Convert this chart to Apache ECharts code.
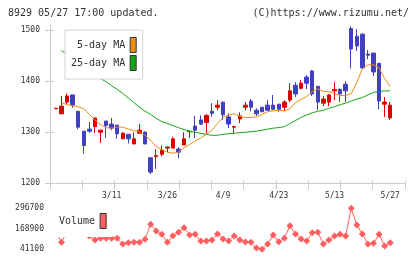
<!DOCTYPE html>
<html>
<head>
<meta charset="utf-8">
<script src="https://cdn.jsdelivr.net/npm/echarts@6/dist/echarts.min.js"></script>
<style>
html, body { margin: 0; padding: 0; background: #fff; }
#chart { width: 420px; height: 259px; }
</style>
</head>
<body>
<div id="chart"></div>
<script>
// daily prices, index 0 = first candle on the left
const openP = [1346, 1336, 1359, 1373, 1341, 1302, 1306, 1311, 1300, 1322,
  1316, 1314, 1287, 1296, 1277, 1298, 1300, 1250, 1252, 1257,
  1269, 1269, 1267, 1275, 1301, 1312, 1324, 1319, 1341, 1349,
  1359, 1330, 1310, 1326, 1349, 1361, 1343, 1349, 1353, 1353,
  1355, 1349, 1363, 1392, 1386, 1408, 1420, 1390, 1357, 1359,
  1381, 1384, 1394, 1503, 1488, 1492, 1453, 1455, 1435, 1355, 1328];
const closeP = [1347, 1351, 1371, 1353, 1310, 1274, 1302, 1328, 1304, 1313,
  1308, 1297, 1298, 1287, 1287, 1304, 1277, 1222, 1254, 1265,
  1271, 1287, 1261, 1287, 1302, 1304, 1316, 1333, 1337, 1353,
  1334, 1316, 1311, 1332, 1353, 1349, 1336, 1340, 1343, 1345,
  1345, 1359, 1381, 1375, 1396, 1396, 1375, 1359, 1365, 1373,
  1384, 1375, 1381, 1463, 1469, 1426, 1451, 1418, 1361, 1359, 1353];
const lowP = [1346, 1336, 1354, 1348, 1306, 1258, 1299, 1298, 1279, 1289,
  1304, 1287, 1287, 1278, 1277, 1298, 1277, 1218, 1228, 1253,
  1261, 1269, 1249, 1275, 1289, 1289, 1314, 1298, 1330, 1343,
  1324, 1308, 1297, 1318, 1343, 1341, 1332, 1340, 1343, 1343,
  1340, 1343, 1359, 1369, 1384, 1384, 1371, 1343, 1351, 1351,
  1363, 1359, 1359, 1425, 1459, 1424, 1443, 1410, 1345, 1330, 1324];
const highP = [1347, 1371, 1376, 1373, 1341, 1302, 1320, 1328, 1305, 1322,
  1328, 1314, 1300, 1296, 1300, 1316, 1302, 1250, 1267, 1274,
  1272, 1291, 1271, 1300, 1302, 1332, 1333, 1335, 1357, 1363,
  1359, 1337, 1313, 1339, 1359, 1365, 1347, 1349, 1363, 1373,
  1355, 1363, 1396, 1398, 1402, 1412, 1422, 1390, 1371, 1375,
  1398, 1386, 1400, 1507, 1502, 1494, 1461, 1455, 1435, 1369, 1359];
const ma5 = [null, 1358, 1354, 1352, 1350, 1346, 1335, 1324, 1315, 1309,
  1308, 1310, 1310, 1306, 1303, 1301, 1294, 1284, 1272, 1266,
  1261, 1259, 1261, 1270, 1276, 1283, 1289, 1296, 1304, 1317,
  1329, 1334, 1336, 1331, 1329, 1329, 1330, 1335, 1340, 1342,
  1343, 1342, 1346, 1358, 1364, 1370, 1380, 1385, 1380, 1379,
  1376, 1372, 1372, 1375, 1398, 1424, 1432, 1432, 1426, 1405, 1389];
const ma25 = [null, 1460, 1452, 1444, 1436, 1429, 1421, 1413, 1405, 1399,
  1391, 1384, 1376, 1367, 1358, 1349, 1341, 1335, 1327, 1321,
  1317, 1313, 1309, 1305, 1302, 1300, 1298, 1296, 1294, 1294,
  1296, 1297, 1298, 1299, 1300, 1301, 1302, 1304, 1306, 1308,
  1309, 1311, 1317, 1323, 1329, 1334, 1338, 1341, 1343, 1347,
  1350, 1354, 1357, 1361, 1365, 1368, 1373, 1378, 1380, 1381, 1381];
const volume = [150000, 84700, 150000, 160000, 145000, 155000, 124000, 99100, 109700, 109700,
  109700, 109700, 74100, 82200, 84700, 84700, 103400, 197000, 155200, 134600,
  84700, 125900, 147100, 175800, 130200, 134600, 92800, 92800, 99100, 136500,
  105300, 92800, 124000, 99100, 86600, 84700, 49200, 41100, 74100, 130200,
  88500, 109700, 188200, 136500, 105300, 92800, 144600, 147100, 74100, 99100,
  124000, 134600, 124000, 296700, 192600, 136500, 74100, 78500, 134600, 61700, 82200];

const labelIdx = [10, 20, 30, 40, 50, 60];
const labelText = ["3/11", "3/26", "4/9", "4/23", "5/13", "5/27"];
const priceTicks = [1200, 1300, 1400, 1500];
const volTicks = [41100, 168900, 296700];

const xMin = -1.06;
const xMax = 62.65;
const tickX = [];
for (let k = 0; k <= 11; k++) {
  tickX.push(k === 11 ? xMax : xMin + ((xMax - xMin) * k) / 11);
}

const font = "DejaVu Sans Mono";
const gray = "#cccccc";
const txt = "#333333";

let myChart = echarts.init(document.getElementById("chart"));

let option = {
  animation: false,
  title: [
    {
      text: "8929 05/27 17:00 updated.",
      left: 8,
      top: 8,
      padding: 0,
      textStyle: { fontFamily: font, fontSize: 10, fontWeight: "normal", color: txt },
    },
    {
      text: "(C)https://www.rizumu.net/",
      right: 11,
      top: 8,
      padding: 0,
      textStyle: { fontFamily: font, fontSize: 10, fontWeight: "normal", color: txt },
    },
  ],
  legend: [
    {
      data: ["5-day MA", "25-day MA"],
      orient: "vertical",
      left: 65,
      top: 30,
      align: "right",
      icon: "rect",
      itemWidth: 6,
      itemHeight: 15,
      itemGap: 2,
      padding: [7, 6, 8, 6],
      backgroundColor: "#fff",
      borderColor: "#d4d4d4",
      borderWidth: 1,
      selectedMode: false,
      itemStyle: { borderColor: "#333", borderWidth: 1 },
      textStyle: { fontFamily: font, fontSize: 10, color: txt },
    },
    {
      data: ["Volume"],
      left: 53,
      top: 205,
      align: "right",
      icon: "rect",
      itemWidth: 6,
      itemHeight: 15,
      padding: [8, 6, 8, 6],
      backgroundColor: "#fff",
      selectedMode: false,
      itemStyle: { borderColor: "#333", borderWidth: 1 },
      textStyle: { fontFamily: font, fontSize: 10, color: txt },
    },
  ],
  grid: [
    { left: 50, top: 25, width: 355, height: 158.3 },
    { left: 50, top: 208.3, width: 355, height: 41 },
  ],
  xAxis: [
    {
      type: "value",
      gridIndex: 0,
      min: xMin,
      max: xMax,
      splitLine: { show: false },
      axisLine: { onZero: false, lineStyle: { color: gray } },
      axisTick: { customValues: tickX, length: 6, lineStyle: { color: gray } },
      axisLabel: {
        customValues: labelIdx,
        formatter: function (v) {
          return labelText[labelIdx.indexOf(Math.round(v))];
        },
        margin: 9,
        fontFamily: font,
        fontSize: 8,
        color: txt,
      },
    },
    {
      type: "value",
      gridIndex: 0,
      position: "bottom",
      min: xMin,
      max: xMax,
      splitLine: { show: false },
      axisLine: { show: false, onZero: false },
      axisTick: { inside: true, customValues: tickX, length: 3, lineStyle: { color: gray } },
      axisLabel: { show: false },
    },
    { type: "value", gridIndex: 1, min: xMin, max: xMax, show: false },
  ],
  yAxis: [
    {
      type: "value",
      gridIndex: 0,
      position: "left",
      min: 1200,
      max: 1510,
      splitLine: { show: false },
      axisLine: { show: true, onZero: false, lineStyle: { color: gray } },
      axisTick: { show: true, customValues: priceTicks, length: 5, lineStyle: { color: gray } },
      axisLabel: {
        customValues: priceTicks,
        formatter: (v) => String(v),
        margin: 10,
        fontFamily: font,
        fontSize: 8,
        color: txt,
      },
    },
    {
      type: "value",
      gridIndex: 0,
      position: "left",
      min: 1200,
      max: 1510,
      splitLine: { show: false },
      axisLine: { show: false, onZero: false },
      axisTick: { show: true, inside: true, customValues: priceTicks, length: 4, lineStyle: { color: gray } },
      axisLabel: { show: false },
    },
    {
      type: "value",
      gridIndex: 1,
      position: "left",
      min: 41100,
      max: 296700,
      splitLine: { show: false },
      axisLine: { show: false, onZero: false },
      axisTick: { show: false },
      axisLabel: {
        customValues: volTicks,
        formatter: (v) => String(v),
        margin: 6,
        fontFamily: font,
        fontSize: 8,
        color: txt,
      },
    },
  ],
  series: [
    {
      name: "price",
      type: "candlestick",
      xAxisIndex: 0,
      yAxisIndex: 0,
      barWidth: 4,
      encode: { x: 0, y: [1, 2, 3, 4] },
      itemStyle: {
        color: "#dd0000",
        color0: "#4040c0",
        borderColor: "#dd0000",
        borderColor0: "#4040c0",
        borderWidth: 1,
      },
      data: openP.map((o, i) => [i, o, closeP[i], lowP[i], highP[i]]),
    },
    {
      name: "5-day MA",
      type: "line",
      xAxisIndex: 0,
      yAxisIndex: 0,
      showSymbol: false,
      color: "#f08c10",
      lineStyle: { width: 1, color: "#f08c10" },
      data: ma5.map((v, i) => [i, v]).filter((d) => d[1] != null),
    },
    {
      name: "25-day MA",
      type: "line",
      xAxisIndex: 0,
      yAxisIndex: 0,
      showSymbol: false,
      color: "#11a611",
      lineStyle: { width: 1, color: "#11a611" },
      data: ma25.map((v, i) => [i, v]).filter((d) => d[1] != null),
    },
    {
      name: "Volume",
      type: "line",
      xAxisIndex: 2,
      yAxisIndex: 2,
      clip: false,
      symbol: "diamond",
      symbolSize: 7,
      showSymbol: true,
      showAllSymbol: true,
      color: "#ff5f5f",
      lineStyle: { width: 1, color: "#ff5f5f" },
      data: volume.map((v, i) => [i, v]),
    },
  ],
};

myChart.setOption(option);
</script>
</body>
</html>
